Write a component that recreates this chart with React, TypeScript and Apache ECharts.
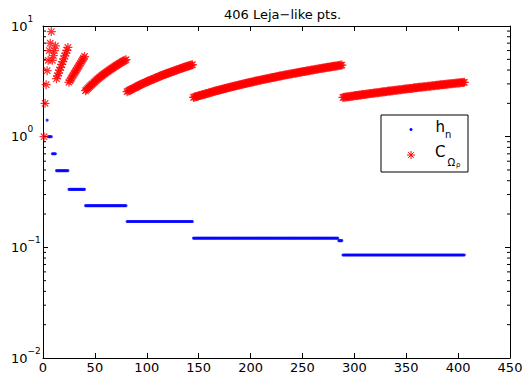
import React, { useEffect, useRef } from "react";
import * as echarts from "echarts";

const FONT = "DejaVu Sans";
const TITLE = "406 Leja\u2212like pts.";

// x ticks
const xTicks = [0, 50, 100, 150, 200, 250, 300, 350, 400, 450];
// minor log ticks (2..9 per decade)
const minorTickVals = [
  0.02, 0.03, 0.04, 0.05, 0.06, 0.07, 0.08, 0.09,
  0.2, 0.3, 0.4, 0.5, 0.6, 0.7, 0.8, 0.9,
  2, 3, 4, 5, 6, 7, 8, 9,
];

// h_n : step levels and their index ranges [from, to]
const hLevels = [1.41, 1.0, 0.7, 0.493, 0.334, 0.238, 0.171, 0.121, 0.115, 0.0853];
const hRanges = [
  [4, 4], [5, 8], [9, 12], [13, 24], [25, 40], [41, 80], [81, 144], [145, 284], [285, 288], [289, 406],
];

// C_Omega_rho values, n = 1..406, read piece by piece
const cStart = [1.0, 2.0, 2.95, 3.95, 4.9, 6.0, 7.0, 8.9, 4.9, 5.4, 6.0, 6.6];
const cArcA = [3.34, 3.54, 3.76, 3.99, 4.23, 4.49, 4.76, 5.05, 5.36, 5.69, 6.03, 6.4];
const cArcB = [3.1, 3.21, 3.33, 3.45, 3.58, 3.71, 3.84, 3.98, 4.13, 4.28, 4.43, 4.59, 4.76, 4.94, 5.12, 5.3];
const cArcC = [
  2.6, 2.66, 2.72, 2.78, 2.84, 2.9, 2.96, 3.02, 3.08, 3.14,
  3.21, 3.27, 3.33, 3.39, 3.45, 3.51, 3.57, 3.63, 3.69, 3.75,
  3.81, 3.87, 3.93, 3.99, 4.05, 4.11, 4.17, 4.23, 4.29, 4.35,
  4.42, 4.48, 4.54, 4.6, 4.66, 4.72, 4.78, 4.84, 4.9, 4.96,
];
const cArcD = [
  2.55, 2.58, 2.61, 2.64, 2.67, 2.7, 2.73, 2.76, 2.79, 2.82,
  2.85, 2.89, 2.92, 2.95, 2.98, 3.01, 3.04, 3.07, 3.1, 3.13,
  3.16, 3.19, 3.22, 3.25, 3.28, 3.31, 3.34, 3.37, 3.4, 3.43,
  3.46, 3.49, 3.53, 3.56, 3.59, 3.62, 3.65, 3.68, 3.71, 3.74,
  3.77, 3.8, 3.83, 3.86, 3.89, 3.92, 3.95, 3.98, 4.01, 4.04,
  4.07, 4.1, 4.13, 4.17, 4.2, 4.23, 4.26, 4.29, 4.32, 4.35,
  4.38, 4.41, 4.44, 4.47,
];
const cArcE = [
  2.26, 2.28, 2.29, 2.31, 2.32, 2.34, 2.35, 2.37, 2.38, 2.4,
  2.41, 2.43, 2.44, 2.46, 2.47, 2.49, 2.5, 2.52, 2.53, 2.55,
  2.57, 2.58, 2.6, 2.61, 2.63, 2.64, 2.66, 2.67, 2.69, 2.7,
  2.72, 2.73, 2.75, 2.76, 2.78, 2.79, 2.81, 2.82, 2.84, 2.85,
  2.87, 2.89, 2.9, 2.92, 2.93, 2.95, 2.96, 2.98, 2.99, 3.01,
  3.02, 3.04, 3.05, 3.07, 3.08, 3.1, 3.11, 3.13, 3.14, 3.16,
  3.18, 3.19, 3.21, 3.22, 3.24, 3.25, 3.27, 3.28, 3.3, 3.31,
  3.33, 3.34, 3.36, 3.37, 3.39, 3.4, 3.42, 3.43, 3.45, 3.46,
  3.48, 3.5, 3.51, 3.53, 3.54, 3.56, 3.57, 3.59, 3.6, 3.62,
  3.63, 3.65, 3.66, 3.68, 3.69, 3.71, 3.72, 3.74, 3.75, 3.77,
  3.79, 3.8, 3.82, 3.83, 3.85, 3.86, 3.88, 3.89, 3.91, 3.92,
  3.94, 3.95, 3.97, 3.98, 4.0, 4.01, 4.03, 4.04, 4.06, 4.07,
  4.09, 4.1, 4.12, 4.14, 4.15, 4.17, 4.18, 4.2, 4.21, 4.23,
  4.24, 4.26, 4.27, 4.29, 4.3, 4.32, 4.33, 4.35, 4.36, 4.38,
  4.39, 4.41, 4.42, 4.44,
];
const cArcF = [
  2.26, 2.27, 2.27, 2.28, 2.29, 2.3, 2.3, 2.31, 2.32, 2.32,
  2.33, 2.34, 2.35, 2.35, 2.36, 2.37, 2.38, 2.38, 2.39, 2.4,
  2.4, 2.41, 2.42, 2.43, 2.43, 2.44, 2.45, 2.45, 2.46, 2.47,
  2.48, 2.48, 2.49, 2.5, 2.5, 2.51, 2.52, 2.53, 2.53, 2.54,
  2.55, 2.55, 2.56, 2.57, 2.58, 2.58, 2.59, 2.6, 2.6, 2.61,
  2.62, 2.63, 2.63, 2.64, 2.65, 2.66, 2.66, 2.67, 2.68, 2.68,
  2.69, 2.7, 2.71, 2.71, 2.72, 2.73, 2.73, 2.74, 2.75, 2.76,
  2.76, 2.77, 2.78, 2.79, 2.79, 2.8, 2.81, 2.81, 2.82, 2.83,
  2.83, 2.84, 2.85, 2.86, 2.86, 2.87, 2.88, 2.88, 2.89, 2.9,
  2.91, 2.91, 2.92, 2.93, 2.94, 2.94, 2.95, 2.96, 2.96, 2.97,
  2.98, 2.99, 2.99, 3.0, 3.01, 3.01, 3.02, 3.03, 3.04, 3.04,
  3.05, 3.06, 3.06, 3.07, 3.08, 3.09, 3.09, 3.1,
];

const ASTERISK =
  "path://M8.6,0H11.4V20H8.6Z M0,8.6H20V11.4H0Z M1.9,3.9L3.9,1.9L18.1,16.1L16.1,18.1Z M16.1,1.9L18.1,3.9L3.9,18.1L1.9,16.1Z";

function buildH() {
  const out: number[][] = [];
  hRanges.forEach((r, i) => {
    for (let n = r[0]; n <= r[1]; n++) out.push([n, hLevels[i]]);
  });
  return out;
}

function buildC() {
  const all = [...cStart, ...cArcA, ...cArcB, ...cArcC, ...cArcD, ...cArcE, ...cArcF];
  return all.map((v, i) => [i + 1, v]);
}

const supLabel = (v: number) => {
  const e = Math.round(Math.log10(v));
  const s = e < 0 ? "\u2212" + String(-e) : String(e);
  return `{b|10}{s|${s}}`;
};

export default function App() {
  const ref = useRef<HTMLDivElement>(null);
  useEffect(() => {
    if (!ref.current) return;
    const chart = echarts.init(ref.current, null, { renderer: "svg" });
    const axisLine = { show: true, onZero: false, lineStyle: { color: "#000", width: 1 } };
    const option: any = {
      animation: false,
      backgroundColor: "#fff",
      title: {
        text: TITLE,
        left: 219,
        top: 3,
        textStyle: { fontFamily: FONT, fontSize: 13, fontWeight: "normal", color: "#000" },
      },
      grid: { left: 43, top: 26, right: 14, bottom: 25, containLabel: false, outerBoundsMode: "none" },
      xAxis: [
        {
          type: "value", min: 0, max: 450, interval: 50, position: "bottom",
          axisLine, splitLine: { show: false },
          axisTick: { show: true, inside: true, length: 5, lineStyle: { color: "#000" } },
          axisLabel: { color: "#000", fontSize: 13, fontFamily: FONT, margin: 3,
            formatter: (v: number) => (xTicks.includes(v) ? String(v) : "") },
        },
        {
          type: "value", min: 0, max: 450, interval: 50, position: "top",
          axisLine, splitLine: { show: false },
          axisTick: { show: true, inside: true, length: 5, lineStyle: { color: "#000" } },
          axisLabel: { show: false },
        },
      ],
      yAxis: [
        {
          type: "log", logBase: 10, min: 0.01, max: 10, splitNumber: 3, position: "left",
          axisLine, splitLine: { show: false },
          axisTick: { show: true, inside: true, length: 5, lineStyle: { color: "#000" } },
          axisLabel: {
            color: "#000", align: "left", margin: 32, formatter: supLabel,
            rich: {
              b: { fontSize: 13, fontFamily: FONT, color: "#000", lineHeight: 24, verticalAlign: "middle" },
              s: { fontSize: 9, fontFamily: FONT, color: "#000", verticalAlign: "top", lineHeight: 11 },
            },
          },
        },
        {
          type: "log", logBase: 10, min: 0.01, max: 10, splitNumber: 3, position: "right",
          axisLine, splitLine: { show: false },
          axisTick: { show: true, inside: true, length: 5, lineStyle: { color: "#000" } },
          axisLabel: { show: false },
        },
      ],
      series: [
        {
          type: "custom",
          name: "minorTicks",
          silent: true,
          xAxisIndex: 0, yAxisIndex: 0,
          data: minorTickVals.map((v) => [0, v]),
          renderItem: (params: any, api: any) => {
            const y = api.coord([0, api.value(1)])[1];
            const cs = params.coordSys;
            return {
              type: "group",
              children: [
                { type: "line", shape: { x1: cs.x, y1: y, x2: cs.x + 3, y2: y }, style: { stroke: "#000", lineWidth: 1 } },
                { type: "line", shape: { x1: cs.x + cs.width - 3, y1: y, x2: cs.x + cs.width, y2: y }, style: { stroke: "#000", lineWidth: 1 } },
              ],
            };
          },
        },
        {
          type: "scatter", name: "h_n", xAxisIndex: 0, yAxisIndex: 0,
          symbol: "circle", symbolSize: 3,
          itemStyle: { color: "#0000ff" },
          data: buildH(), z: 3,
        },
        {
          type: "scatter", name: "C", xAxisIndex: 0, yAxisIndex: 0,
          symbol: ASTERISK, symbolSize: 9,
          itemStyle: { color: "#ff0000" },
          data: buildC(), z: 4,
        },
      ],
      graphic: [
        { type: "rect", z: 100, shape: { x: 381, y: 115, width: 87, height: 57 }, style: { fill: "#fff", stroke: "#000", lineWidth: 1 } },
        { type: "circle", z: 101, shape: { cx: 411, cy: 129.5, r: 1.5 }, style: { fill: "#0000ff" } },
        { type: "line", z: 101, shape: { x1: 411, y1: 151, x2: 411, y2: 159 }, style: { stroke: "#ff0000", lineWidth: 1 } },
        { type: "line", z: 101, shape: { x1: 407, y1: 155, x2: 415, y2: 155 }, style: { stroke: "#ff0000", lineWidth: 1 } },
        { type: "line", z: 101, shape: { x1: 408.2, y1: 152.2, x2: 413.8, y2: 157.8 }, style: { stroke: "#ff0000", lineWidth: 1 } },
        { type: "line", z: 101, shape: { x1: 413.8, y1: 152.2, x2: 408.2, y2: 157.8 }, style: { stroke: "#ff0000", lineWidth: 1 } },
        { type: "text", z: 101, x: 435.5, y: 127, style: { text: "h", fontSize: 15, fontFamily: FONT, fill: "#000", align: "left", verticalAlign: "middle" } },
        { type: "text", z: 101, x: 445, y: 134, style: { text: "n", fontSize: 10, fontFamily: FONT, fill: "#000", align: "left", verticalAlign: "middle" } },
        { type: "text", z: 101, x: 435, y: 152, style: { text: "C", fontSize: 15, fontFamily: FONT, fill: "#000", align: "left", verticalAlign: "middle" } },
        { type: "text", z: 101, x: 447.5, y: 162, style: { text: "\u03A9", fontSize: 10, fontFamily: FONT, fill: "#000", align: "left", verticalAlign: "middle" } },
        { type: "text", z: 101, x: 456, y: 165, style: { text: "\u03C1", fontSize: 7, fontFamily: FONT, fill: "#000", align: "left", verticalAlign: "middle" } },
      ],
    };
    chart.setOption(option);
    return () => chart.dispose();
  }, []);
  return <div ref={ref} style={{ width: 524, height: 383, position: "absolute", left: 0, top: 0 }} />;
}
